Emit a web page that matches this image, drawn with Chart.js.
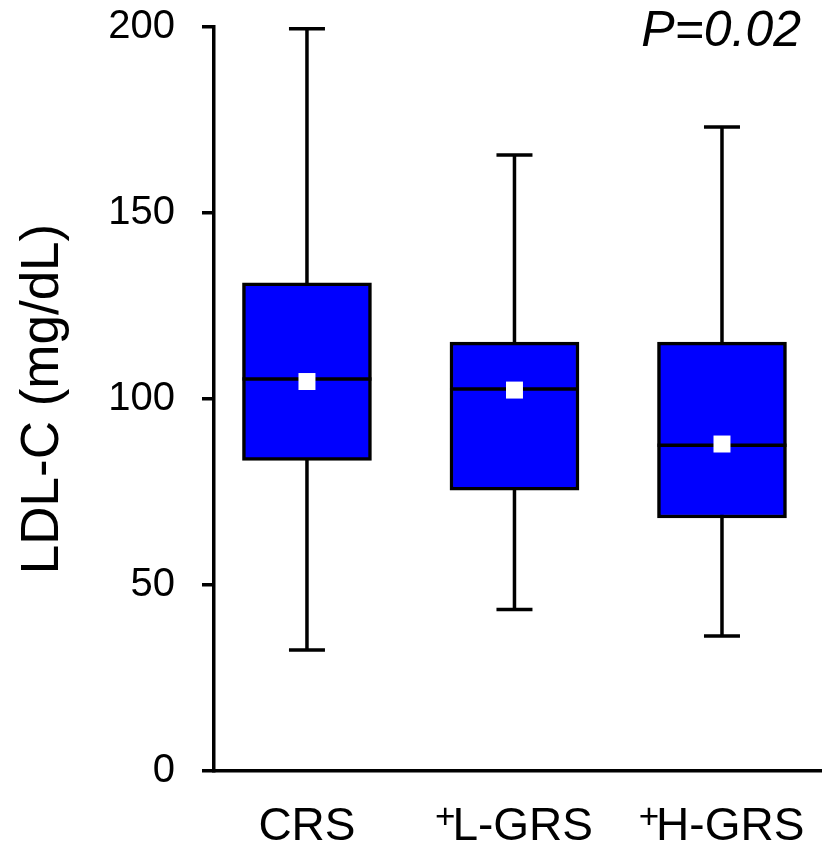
<!DOCTYPE html>
<html>
<head>
<meta charset="utf-8">
<script src="https://cdn.jsdelivr.net/npm/chart.js@4/dist/chart.umd.min.js"></script>
<style>
  html, body { margin: 0; padding: 0; background: #fff; }
  #wrap { width: 822px; height: 848px; }
</style>
</head>
<body>
<div id="wrap"><canvas id="chart" width="822" height="848"></canvas></div>
<script>
// LDL-C box plots per group
const categories = ["CRS", "L-GRS", "H-GRS"];
const prefixes = ["", "+", "+"]; // superscript plus in front of the label
const positions = [1, 2, 3];
const whiskerMax = [199.5, 165.6, 173.1];
const q3 = [131.2, 115.3, 115.3];
const medians = [105.4, 102.7, 87.6];
const q1 = [83.5, 75.5, 68.0];
const whiskerMin = [32.5, 43.4, 36.3];
const means = [104.7, 102.4, 87.9];
const yTicks = [0, 50, 100, 150, 200];
const pLabel = "P=0.02";

const FONT = "'Liberation Sans', Arial, sans-serif";
const LINE = 3.5;

const boxPlotParts = {
    id: "boxPlotParts",
    beforeDatasetsDraw(chart) {
        const { ctx, scales: { x, y } } = chart;
        ctx.save();
        ctx.strokeStyle = "#000";
        ctx.lineWidth = LINE;
        positions.forEach((pos, i) => {
            const px = x.getPixelForValue(pos);
            const top = y.getPixelForValue(whiskerMax[i]);
            const bottom = y.getPixelForValue(whiskerMin[i]);
            ctx.beginPath();
            ctx.moveTo(px, top);
            ctx.lineTo(px, bottom);
            ctx.moveTo(px - 18, top);
            ctx.lineTo(px + 18, top);
            ctx.moveTo(px - 18, bottom);
            ctx.lineTo(px + 18, bottom);
            ctx.stroke();
        });
        ctx.restore();
    },
    afterDatasetDraw(chart, args) {
        if (args.meta.type !== "bar") {
            return;
        }
        const { ctx, scales: { y } } = chart;
        ctx.save();
        ctx.strokeStyle = "#000";
        ctx.lineWidth = LINE;
        args.meta.data.forEach((bar, i) => {
            const py = y.getPixelForValue(medians[i]);
            ctx.beginPath();
            ctx.moveTo(bar.x - bar.width / 2, py);
            ctx.lineTo(bar.x + bar.width / 2, py);
            ctx.stroke();
        });
        ctx.restore();
    },
    afterDraw(chart) {
        const { ctx, scales: { x } } = chart;
        ctx.save();
        ctx.fillStyle = "#000";
        ctx.textBaseline = "alphabetic";

        // category labels, with a small raised "+"
        ctx.textAlign = "left";
        positions.forEach((pos, i) => {
            const px = x.getPixelForValue(pos);
            ctx.font = "35px " + FONT;
            const wPre = prefixes[i] ? ctx.measureText(prefixes[i]).width - 4 : 0;
            ctx.font = "46px " + FONT;
            const wMain = ctx.measureText(categories[i]).width;
            const left = px - (wPre + wMain) / 2;
            if (prefixes[i]) {
                ctx.font = "35px " + FONT;
                ctx.fillText(prefixes[i], left - 1, 828);
            }
            ctx.font = "46px " + FONT;
            ctx.fillText(categories[i], left + wPre, 840);
        });

        ctx.font = "italic 50px " + FONT;
        ctx.textAlign = "right";
        ctx.fillText(pLabel, 801, 46);
        ctx.restore();
    },
};

new Chart(document.getElementById("chart"), {
    data: {
        datasets: [
            {
                type: "scatter",
                data: positions.map((pos, i) => ({ x: pos, y: means[i] })),
                pointStyle: "rect",
                pointRadius: 12,
                pointBackgroundColor: "#fff",
                pointBorderWidth: 0,
                order: 1,
            },
            {
                type: "bar",
                data: positions.map((pos, i) => ({ x: pos, y: [q1[i], q3[i]] })),
                backgroundColor: "#0000ff",
                borderColor: "#000",
                borderWidth: LINE,
                borderSkipped: false,
                barThickness: 129,
                order: 2,
            },
        ],
    },
    options: {
        responsive: false,
        animation: false,
        events: [],
        layout: {
            autoPadding: false,
            padding: { top: 27, right: 0, bottom: 0, left: 0 },
        },
        plugins: {
            legend: { display: false },
            tooltip: { enabled: false },
        },
        scales: {
            x: {
                type: "linear",
                offset: false,
                min: 0.552,
                max: 3.482,
                grid: { display: false },
                border: { display: true, color: "#000", width: LINE },
                afterBuildTicks: (scale) => {
                    scale.ticks = positions.map((v) => ({ value: v }));
                },
                afterFit: (scale) => {
                    scale.height = 77;
                    scale.paddingLeft = 0;
                    scale.paddingRight = 0;
                },
                ticks: { display: false },
            },
            y: {
                min: 0,
                max: 200,
                grid: {
                    drawOnChartArea: false,
                    color: "#000",
                    lineWidth: LINE,
                    tickLength: 12,
                },
                border: { display: true, color: "#000", width: LINE },
                afterBuildTicks: (scale) => {
                    scale.ticks = yTicks.map((v) => ({ value: v }));
                },
                afterFit: (scale) => {
                    scale.width = 214;
                    scale.paddingTop = 0;
                    scale.paddingBottom = 0;
                },
                ticks: {
                    padding: 27,
                    color: "#000",
                    font: { family: FONT, size: 40 },
                },
                title: {
                    display: true,
                    text: "LDL-C (mg/dL)",
                    color: "#000",
                    font: { family: FONT, size: 53 },
                    padding: { top: 12, bottom: 0 },
                },
            },
        },
    },
    plugins: [boxPlotParts],
});
</script>
</body>
</html>
